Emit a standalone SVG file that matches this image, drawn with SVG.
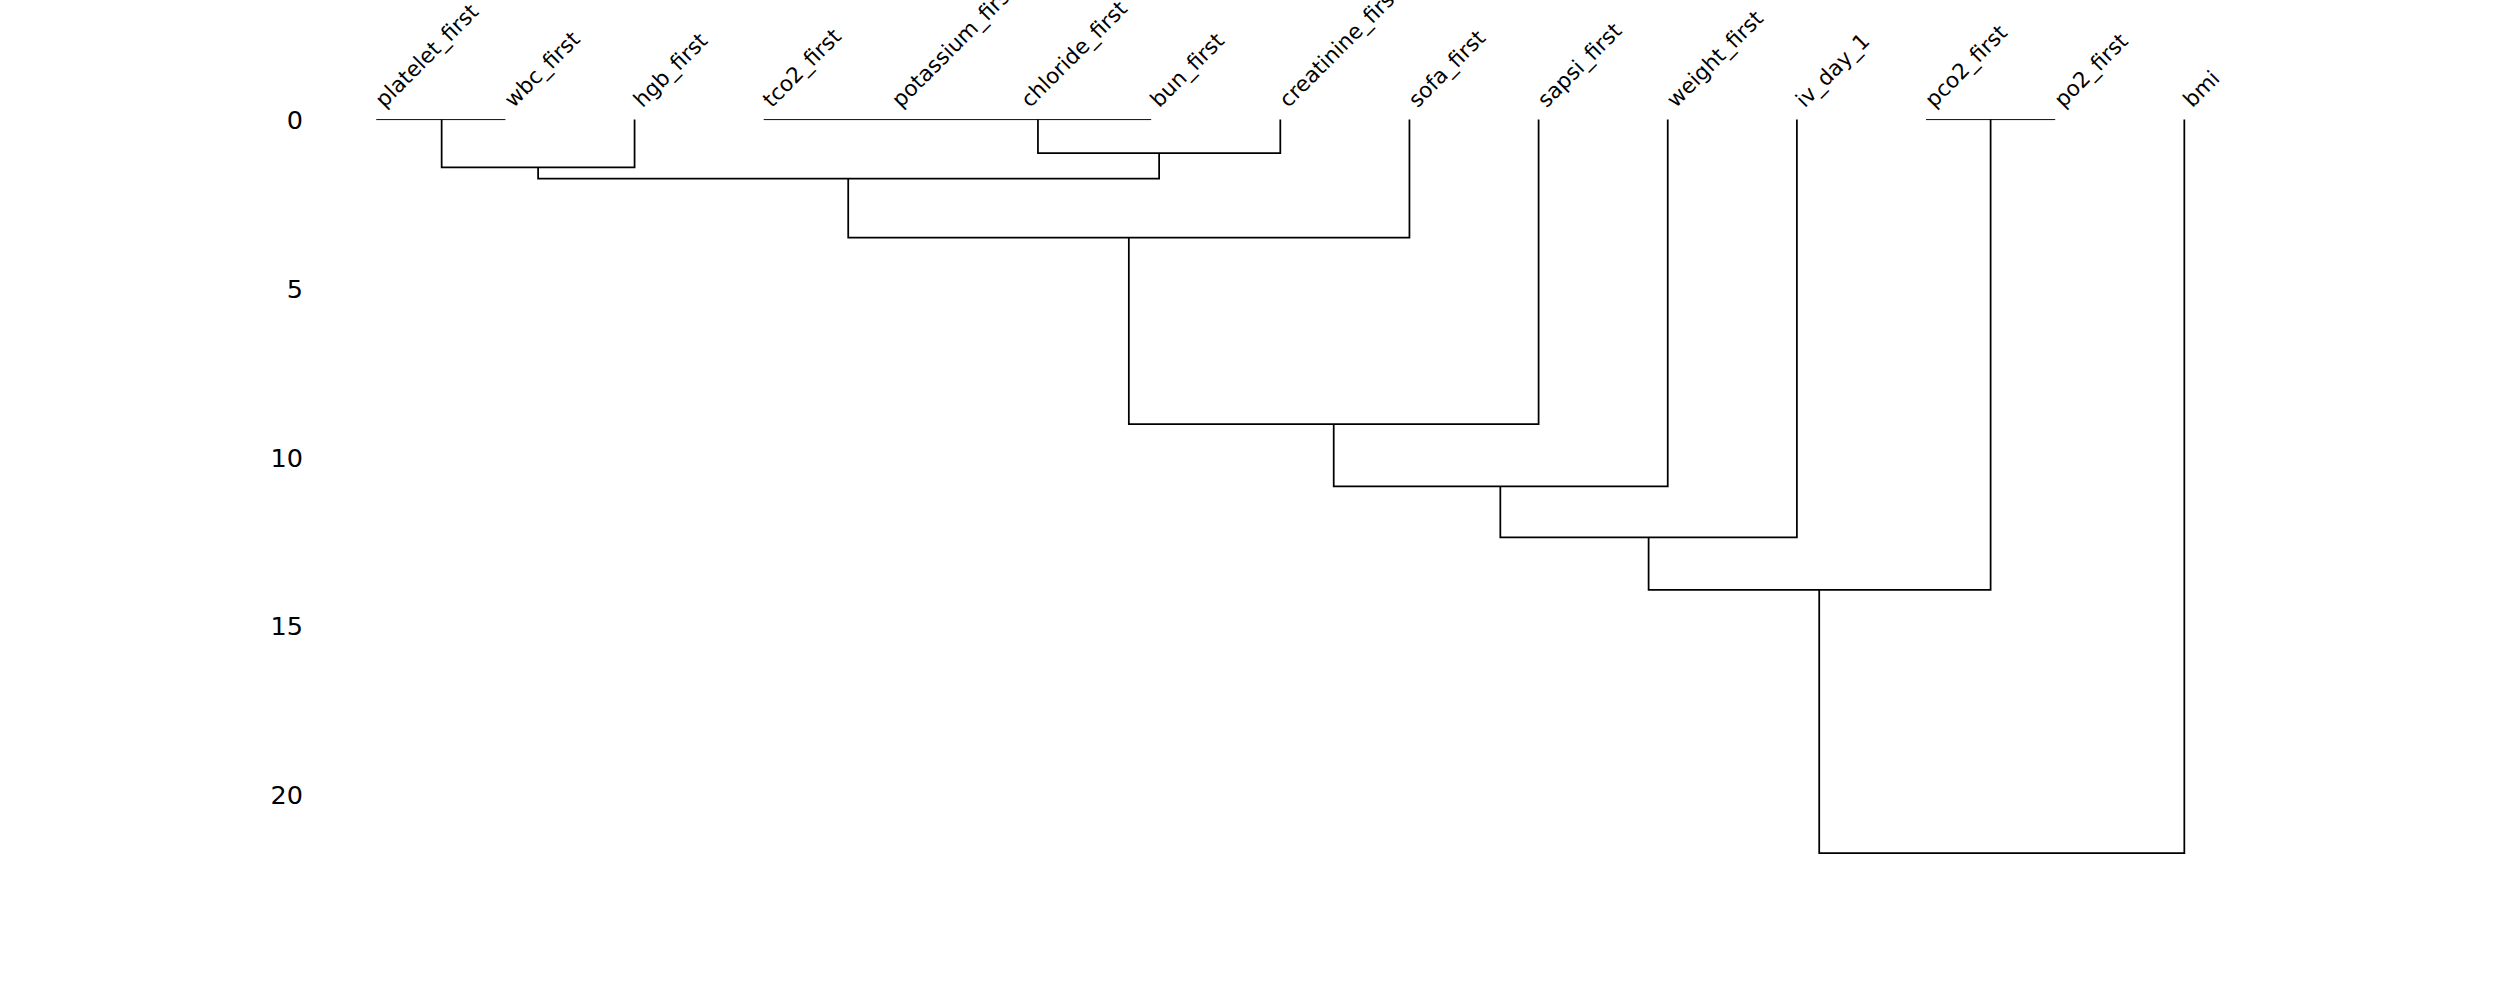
<svg xmlns="http://www.w3.org/2000/svg" width="2500" height="1000" viewBox="0 0 2500 1000">
<style>
.l{font-family:"DejaVu Sans",sans-serif;font-size:13.5px;fill:#000}
.t{font-family:"DejaVu Sans",sans-serif;font-size:16px;fill:#000;text-anchor:end}
.c{fill:none;stroke:#000;stroke-width:1.1}
.z{fill:none;stroke:#000;stroke-width:0.6}
</style>
<rect width="2500" height="1000" fill="#fff"/>
<g transform="scale(1.5944)">
<g id="axis">
<text class="t" x="190" y="81">0</text>
<text class="t" x="190" y="187">5</text>
<text class="t" x="190" y="293">10</text>
<text class="t" x="190" y="398">15</text>
<text class="t" x="190" y="504">20</text>
</g>
<g id="labels">
<text class="l" transform="translate(241,68) rotate(-45)">platelet_first</text>
<text class="l" transform="translate(322,68) rotate(-45)">wbc_first</text>
<text class="l" transform="translate(403,68) rotate(-45)">hgb_first</text>
<text class="l" transform="translate(484,68) rotate(-45)">tco2_first</text>
<text class="l" transform="translate(565,68) rotate(-45)">potassium_first</text>
<text class="l" transform="translate(646,68) rotate(-45)">chloride_first</text>
<text class="l" transform="translate(727,68) rotate(-45)">bun_first</text>
<text class="l" transform="translate(808,68) rotate(-45)">creatinine_first</text>
<text class="l" transform="translate(889,68) rotate(-45)">sofa_first</text>
<text class="l" transform="translate(970,68) rotate(-45)">sapsi_first</text>
<text class="l" transform="translate(1051,68) rotate(-45)">weight_first</text>
<text class="l" transform="translate(1132,68) rotate(-45)">iv_day_1</text>
<text class="l" transform="translate(1213,68) rotate(-45)">pco2_first</text>
<text class="l" transform="translate(1294,68) rotate(-45)">po2_first</text>
<text class="l" transform="translate(1375,68) rotate(-45)">bmi</text>
</g>
<g id="connectors">
<path class="z" d="M236,75H317 M479,75H722 M1208,75H1289"/>
<path class="c" d="M277,75V105H398V75"/>
<path class="c" d="M651,75V96H803V75"/>
<path class="c" d="M337.5,105V112H727V96"/>
<path class="c" d="M532,112V149H884V75"/>
<path class="c" d="M708,149V266H965V75"/>
<path class="c" d="M836.5,266V305H1046V75"/>
<path class="c" d="M941,305V337H1127V75"/>
<path class="c" d="M1248.5,75V370H1034V337"/>
<path class="c" d="M1141,370V535H1370V75"/>
</g>
</g>
</svg>
